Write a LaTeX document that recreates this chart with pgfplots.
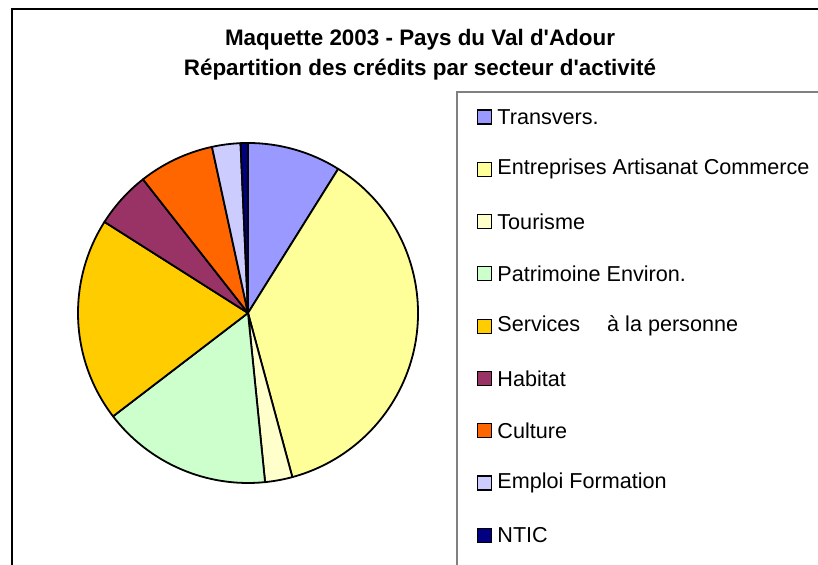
\documentclass[border=0pt]{standalone}
\usepackage{pgfplots}
\pgfplotsset{compat=1.18}
\usepackage{pgfplotstable}
\usepackage{fontspec}
\setmainfont{Liberation Sans}

\definecolor{cA}{HTML}{9999FF}
\definecolor{cB}{HTML}{FFFF99}
\definecolor{cC}{HTML}{FFFFCC}
\definecolor{cD}{HTML}{CCFFCC}
\definecolor{cE}{HTML}{FFCC00}
\definecolor{cF}{HTML}{993366}
\definecolor{cG}{HTML}{FF6600}
\definecolor{cH}{HTML}{CCCCFF}
\definecolor{cI}{HTML}{000080}

% share of credits per sector (percent), clockwise from 12 o'clock
\pgfplotstableread[col sep=comma]{
label,value,color
Transvers.,8.9,cA
Entreprises Artisanat Commerce,36.9,cB
Tourisme,2.6,cC
Patrimoine Environ.,16.2,cD
{Services\hspace{1.25em}à la personne},19.4,cE
Habitat,5.4,cF
Culture,7.2,cG
Emploi Formation,2.7,cH
NTIC,0.7,cI
}\piedata

\begin{document}
\begin{tikzpicture}
\begin{axis}[
    width=409pt, height=282.5pt, scale only axis,
    xmin=0, xmax=818, ymin=0, ymax=565,
    hide axis, clip=false,
]
% chart frame and legend box (pixel-like units, y from bottom)
\draw[black, line width=1pt] (12,-5) -- (12,556) -- (823,556);
\draw[gray, line width=0.7pt] (457,-5) -- (457,473) -- (823,473);
\node[font=\bfseries\fontsize{11.2}{15}\selectfont, align=center] at (420,510)
  {Maquette 2003 - Pays du Val d\textquotesingle Adour\\Répartition des crédits par secteur d\textquotesingle activité};

\pgfplotstablegetrowsof{\piedata}
\pgfmathtruncatemacro\nrows{\pgfplotsretval-1}
\def\angstart{90}
\pgfplotsforeachungrouped \i in {0,...,\nrows}{
  \pgfplotstablegetelem{\i}{value}\of\piedata \let\val\pgfplotsretval
  \pgfplotstablegetelem{\i}{color}\of\piedata \let\col\pgfplotsretval
  \pgfplotstablegetelem{\i}{label}\of\piedata \let\lab\pgfplotsretval
  \pgfmathsetmacro\angend{\angstart-3.6*\val}
  \pgfmathsetmacro\ly{565-117-52.3*\i}
  \edef\temp{%
    \noexpand\filldraw[fill=\col, draw=black, line width=0.9pt, line join=round]
      (248,252) -- ++(\angstart:85pt)
      arc[start angle=\angstart, end angle=\angend, radius=85pt] -- cycle;
    \noexpand\filldraw[fill=\col, draw=black, line width=0.6pt]
      (477.5,\ly-7) rectangle (491.5,\ly+7);
    \noexpand\node[anchor=west, inner sep=0pt, font=\noexpand\fontsize{10.8}{12}\noexpand\selectfont]
      at (497,\ly) {\unexpanded\expandafter{\lab}};
  }%
  \temp
  \global\let\angstart\angend
}
\end{axis}
\pgfresetboundingbox
\path (current axis.south west) rectangle (current axis.north east);
\end{tikzpicture}
\end{document}
